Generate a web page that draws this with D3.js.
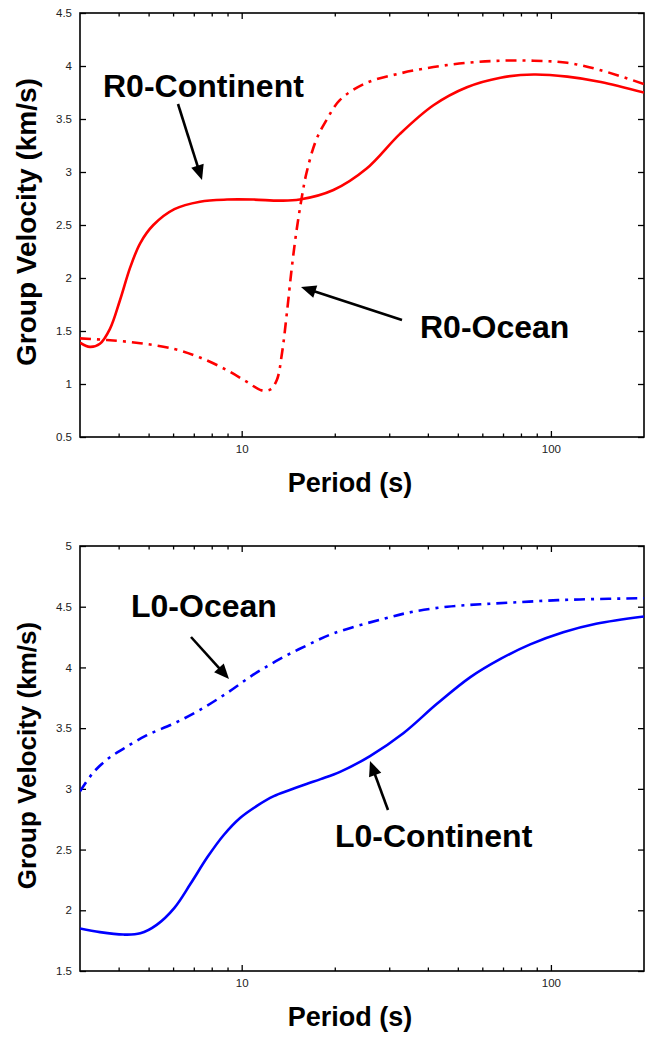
<!DOCTYPE html>
<html>
<head>
<meta charset="utf-8">
<script src="https://cdn.jsdelivr.net/npm/d3@7/dist/d3.min.js"></script>
<style>
  html, body { margin: 0; padding: 0; background: #fff; }
  svg { display: block; font-family: "Liberation Sans", Arial, sans-serif; }
</style>
</head>
<body>
<svg id="chart" width="647" height="1037"></svg>
<script>
// ---------- DATA ----------
const r0ContinentPeriod = [3, 3.23, 3.48, 3.75, 4.04, 4.36, 4.70, 5.18, 6.06, 7.33, 8.97, 10.9, 13.3, 15.4, 19.8, 25.3, 32.5, 41.7, 53.5, 68.7, 88, 113, 145, 200];
const r0ContinentVel    = [1.39, 1.35, 1.38, 1.52, 1.79, 2.10, 2.33, 2.50, 2.65, 2.72, 2.74, 2.74, 2.73, 2.74, 2.83, 3.03, 3.36, 3.63, 3.80, 3.89, 3.92, 3.90, 3.85, 3.75];

const r0OceanPeriod = [3, 3.66, 4.70, 6.06, 7.33, 8.97, 10.4, 11.6, 12.4, 13.0, 13.5, 14.0, 14.5, 15.0, 15.6, 16.2, 17.4, 18.8, 20.8, 25.3, 32.5, 41.7, 53.5, 68.7, 88, 113, 145, 200];
const r0OceanVel    = [1.43, 1.415, 1.385, 1.33, 1.25, 1.13, 1.02, 0.94, 0.95, 1.04, 1.29, 1.67, 2.08, 2.42, 2.74, 2.99, 3.30, 3.49, 3.68, 3.84, 3.93, 3.99, 4.03, 4.05, 4.05, 4.03, 3.96, 3.83];

const l0ContinentPeriod = [3, 3.48, 4.14, 4.70, 5.31, 6.06, 6.84, 7.76, 8.75, 9.88, 11.2, 12.7, 14.3, 16.2, 18.0, 20.8, 26, 33.4, 42.8, 54.9, 68.7, 85.7, 109.6, 140, 200];
const l0ContinentVel    = [1.85, 1.82, 1.80, 1.81, 1.88, 2.02, 2.22, 2.44, 2.62, 2.76, 2.86, 2.94, 2.99, 3.04, 3.08, 3.14, 3.27, 3.46, 3.70, 3.92, 4.07, 4.19, 4.29, 4.36, 4.42];

const l0OceanPeriod = [3, 3.30, 3.66, 4.14, 4.92, 6.06, 7.33, 8.97, 10.9, 13.3, 16.2, 19.8, 28.7, 36.0, 46.2, 59.2, 75.7, 97.2, 124, 200];
const l0OceanVel    = [2.98, 3.13, 3.24, 3.33, 3.44, 3.54, 3.65, 3.79, 3.94, 4.07, 4.18, 4.28, 4.40, 4.46, 4.50, 4.52, 4.535, 4.55, 4.56, 4.57];

const periodDomain = [3, 200];
const xMajorTicks = [10, 100];
const xMinorTicks = [4, 5, 6, 7, 8, 9, 20, 30, 40, 50, 60, 70, 80, 90];
const topYTicks = [0.5, 1, 1.5, 2, 2.5, 3, 3.5, 4, 4.5];
const bottomYTicks = [1.5, 2, 2.5, 3, 3.5, 4, 4.5, 5];
const xTitle = "Period (s)";
const yTitle = "Group Velocity (km/s)";

// ---------- LAYOUT ----------
const svg = d3.select("#chart");
const left = 80, right = 644;

const panels = [
  { id: "top", top: 13, bottom: 437, yDomain: [0.5, 4.5], yTicks: topYTicks, color: "#ff0000",
    series: [
      { p: r0ContinentPeriod, v: r0ContinentVel, dash: null },
      { p: r0OceanPeriod, v: r0OceanVel, dash: "11,6,3,6" }
    ],
    xTitleY: 492, yTitleX: 36, yTitleSize: 28,
    labels: [
      { text: "R0-Continent", x: 103, y: 97, tail: [178, 104], tip: [202, 180] },
      { text: "R0-Ocean", x: 420, y: 338, tail: [402, 320], tip: [301, 287] }
    ]
  },
  { id: "bottom", top: 546, bottom: 971, yDomain: [1.5, 5], yTicks: bottomYTicks, color: "#0000ff",
    series: [
      { p: l0ContinentPeriod, v: l0ContinentVel, dash: null },
      { p: l0OceanPeriod, v: l0OceanVel, dash: "11,6,3,6" }
    ],
    xTitleY: 1026, yTitleX: 36, yTitleSize: 26,
    labels: [
      { text: "L0-Ocean", x: 131, y: 617, tail: [191, 637], tip: [229, 679] },
      { text: "L0-Continent", x: 335, y: 847, tail: [388, 810], tip: [370, 761] }
    ]
  }
];

function fmt(v) { return String(v); }

panels.forEach((P, idx) => {
  const x = d3.scaleLog().domain(periodDomain).range([left, right]);
  const y = d3.scaleLinear().domain(P.yDomain).range([P.bottom, P.top]);
  const g = svg.append("g");

  const clipId = "clip-" + P.id;
  svg.append("clipPath").attr("id", clipId)
    .append("rect").attr("x", left).attr("y", P.top)
    .attr("width", right - left).attr("height", P.bottom - P.top);

  const styleAxis = sel => {
    sel.select(".domain").remove();
    sel.selectAll(".tick line").attr("stroke", "#000").attr("stroke-width", 1.3);
    sel.selectAll(".tick text").attr("fill", "#222").style("font-size", "11.5px")
      .style("font-family", "'Liberation Sans', Arial, sans-serif");
  };
  g.append("g").attr("transform", `translate(0,${P.bottom})`)
    .call(d3.axisBottom(x).tickValues(xMajorTicks).tickSize(-6).tickPadding(8).tickFormat(d3.format("d")))
    .call(styleAxis);
  g.append("g").attr("transform", `translate(0,${P.bottom})`)
    .call(d3.axisBottom(x).tickValues(xMinorTicks).tickSize(-3.5).tickFormat(""))
    .call(styleAxis);
  g.append("g").attr("transform", `translate(0,${P.top})`)
    .call(d3.axisTop(x).tickValues(xMajorTicks).tickSize(-6).tickFormat(""))
    .call(styleAxis);
  g.append("g").attr("transform", `translate(0,${P.top})`)
    .call(d3.axisTop(x).tickValues(xMinorTicks).tickSize(-3.5).tickFormat(""))
    .call(styleAxis);
  g.append("g").attr("transform", `translate(${left},0)`)
    .call(d3.axisLeft(y).tickValues(P.yTicks).tickSize(-6).tickPadding(8).tickFormat(fmt))
    .call(styleAxis);
  g.append("g").attr("transform", `translate(${right},0)`)
    .call(d3.axisRight(y).tickValues(P.yTicks).tickSize(-6).tickFormat(""))
    .call(styleAxis);

  g.append("rect").attr("x", left).attr("y", P.top)
    .attr("width", right - left).attr("height", P.bottom - P.top)
    .attr("fill", "none").attr("stroke", "#000").attr("stroke-width", 1.6);

  const line = d3.line().x(d => x(d[0])).y(d => y(d[1])).curve(d3.curveCatmullRom.alpha(0.5));
  P.series.forEach(s => {
    const pts = s.p.map((p, i) => [p, s.v[i]]);
    g.append("path").attr("clip-path", `url(#${clipId})`)
      .attr("d", line(pts))
      .attr("fill", "none").attr("stroke", P.color).attr("stroke-width", 2.6)
      .attr("stroke-dasharray", s.dash);
  });

  g.append("text").attr("x", 350).attr("y", P.xTitleY)
    .attr("text-anchor", "middle").attr("font-weight", "bold").attr("font-size", 27)
    .attr("fill", "#000").text(xTitle);
  const cy = (P.top + P.bottom) / 2 - 3;
  g.append("text").attr("transform", `translate(${P.yTitleX},${cy}) rotate(-90)`)
    .attr("text-anchor", "middle").attr("font-weight", "bold").attr("font-size", P.yTitleSize)
    .attr("fill", "#000").text(yTitle);

  P.labels.forEach(L => {
    g.append("text").attr("x", L.x).attr("y", L.y)
      .attr("font-weight", "bold").attr("font-size", 32).attr("fill", "#000").text(L.text);
    const [tx, ty] = L.tail, [hx, hy] = L.tip;
    const ang = Math.atan2(hy - ty, hx - tx);
    const len = 15, half = 6.5;
    const bx = hx - len * Math.cos(ang), by = hy - len * Math.sin(ang);
    g.append("line").attr("x1", tx).attr("y1", ty).attr("x2", bx + 2 * Math.cos(ang)).attr("y2", by + 2 * Math.sin(ang))
      .attr("stroke", "#000").attr("stroke-width", 2.6);
    const px = -Math.sin(ang), py = Math.cos(ang);
    g.append("path")
      .attr("d", `M${hx},${hy}L${bx + half * px},${by + half * py}L${bx - half * px},${by - half * py}Z`)
      .attr("fill", "#000");
  });
});
</script>
</body>
</html>
